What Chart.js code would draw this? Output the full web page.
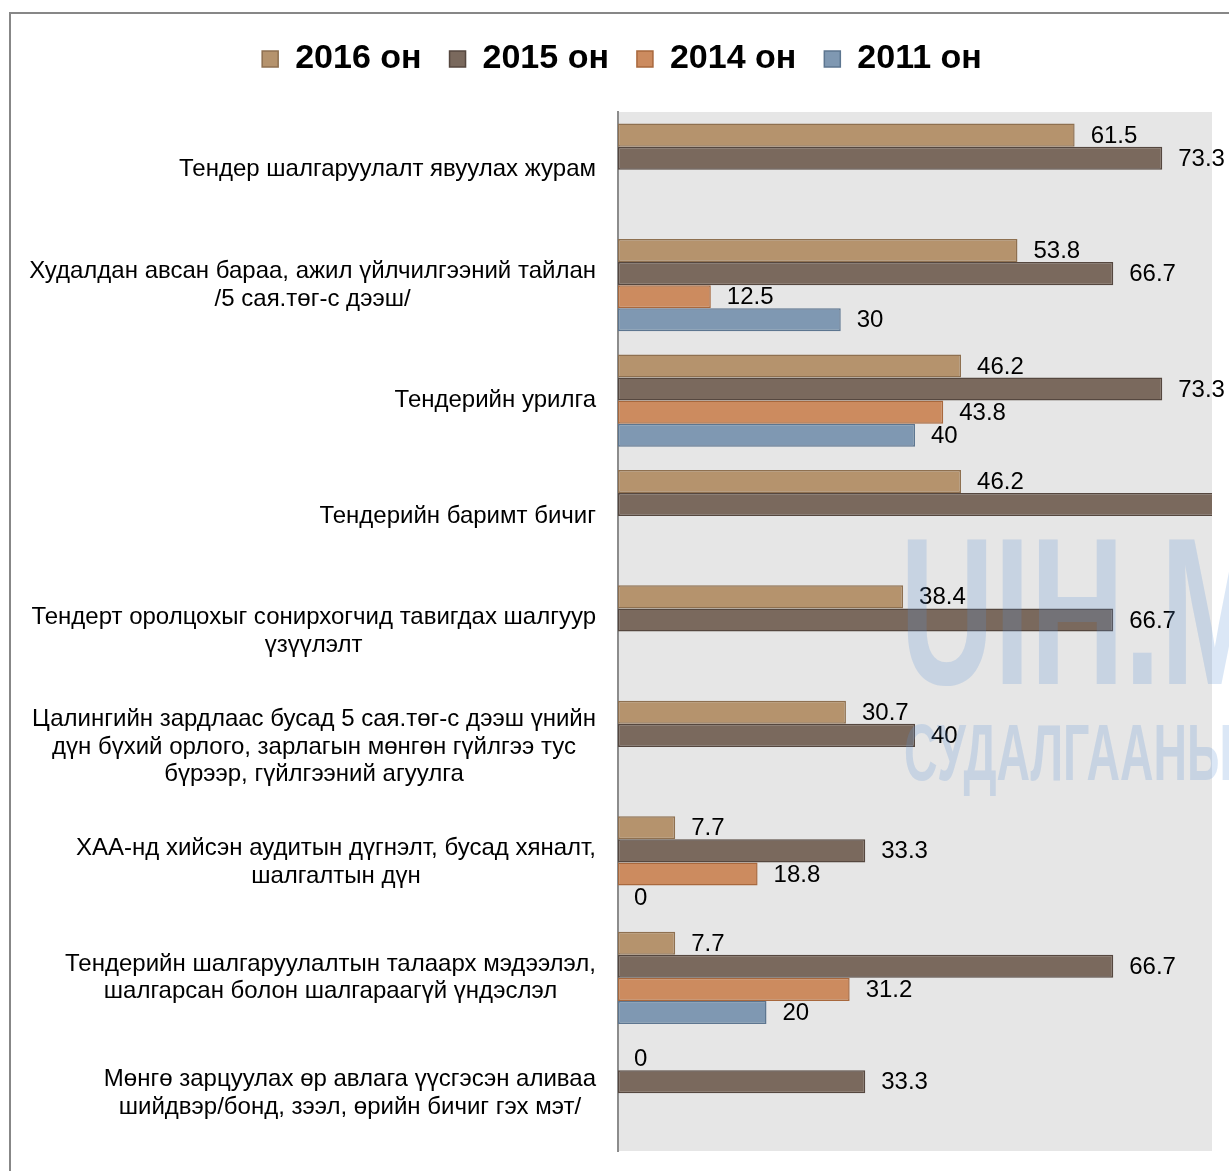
<!DOCTYPE html>
<html lang="mn">
<head>
    <meta charset="UTF-8">
    <style>
        html, body { margin: 0; padding: 0; background: #fff; }
        .wrap { position: relative; width: 1229px; height: 1171px; }
    </style>
</head>
<body>
    <div class="wrap"><canvas id="chart" width="1229" height="1171"></canvas></div>

    <script src="https://cdn.jsdelivr.net/npm/chart.js@4.4.1/dist/chart.umd.min.js"></script>
    <script>
        // ангилал (мөр бүр нэг шугам)
        const categories = [
            ['Тендер шалгаруулалт явуулах журам'],
            ['Худалдан авсан бараа, ажил үйлчилгээний тайлан', '/5 сая.төг-с дээш/'],
            ['Тендерийн урилга'],
            ['Тендерийн баримт бичиг'],
            ['Тендерт оролцохыг сонирхогчид тавигдах шалгуур', 'үзүүлэлт'],
            ['Цалингийн зардлаас бусад 5 сая.төг-с дээш үнийн', 'дүн бүхий орлого, зарлагын мөнгөн гүйлгээ тус', 'бүрээр, гүйлгээний агуулга'],
            ['ХАА-нд хийсэн аудитын дүгнэлт, бусад хяналт,', 'шалгалтын дүн'],
            ['Тендерийн шалгаруулалтын талаарх мэдээлэл,', 'шалгарсан болон шалгараагүй үндэслэл'],
            ['Мөнгө зарцуулах өр авлага үүсгэсэн аливаа', 'шийдвэр/бонд, зээл, өрийн бичиг гэх мэт/']
        ];
        const seriesNames = ['2016 он', '2015 он', '2014 он', '2011 он'];
        const v2016 = [61.5, 53.8, 46.2, 46.2, 38.4, 30.7, 7.7, 7.7, 0];
        const v2015 = [73.3, 66.7, 73.3, 86.7, 66.7, 40, 33.3, 66.7, 33.3];
        const v2014 = [null, 12.5, 43.8, null, null, null, 18.8, 31.2, null];
        const v2011 = [null, 30, 40, null, null, null, 0, 20, null];
        const xRange = [0, 80];

        const fills = ['#b5936d', '#7a695d', '#cc8b5f', '#7f98b2'];
        const borders = ['#8e7050', '#55473f', '#a8683d', '#5d7690'];

        // хүрээ, саарал дэвсгэр
        const frame = {
            id: 'frame',
            beforeDraw(chart) {
                const { ctx, chartArea: a } = chart;
                ctx.save();
                ctx.fillStyle = '#e6e6e6';
                ctx.fillRect(a.left, a.top, a.right - a.left, a.bottom - a.top);
                ctx.strokeStyle = '#878787';
                ctx.lineWidth = 2;
                ctx.strokeRect(10, 13, 1400, 1400);
                ctx.restore();
            }
        };

        // ангиллын нэрс: блок баруун тийш, мөрүүд голлуулсан
        const catLabels = {
            id: 'catLabels',
            afterDraw(chart) {
                const { ctx, scales: { y } } = chart;
                ctx.save();
                ctx.font = '24px "Liberation Sans", Arial, sans-serif';
                ctx.fillStyle = '#000';
                ctx.textAlign = 'center';
                ctx.textBaseline = 'middle';
                const lh = 27.5;
                categories.forEach((lines, i) => {
                    const cy = y.getPixelForTick(i);
                    const w = Math.max(...lines.map(l => ctx.measureText(l).width));
                    const cx = y.right - 22 - w / 2;
                    lines.forEach((l, k) => {
                        ctx.fillText(l, cx, cy + (k - (lines.length - 1) / 2) * lh);
                    });
                });
                ctx.restore();
            }
        };

        // утгын шошго
        const valueLabels = {
            id: 'valueLabels',
            afterDatasetsDraw(chart) {
                const { ctx } = chart;
                ctx.save();
                ctx.font = '24px "Liberation Sans", Arial, sans-serif';
                ctx.fillStyle = '#000';
                ctx.textAlign = 'left';
                ctx.textBaseline = 'middle';
                chart.data.datasets.forEach((ds, di) => {
                    chart.getDatasetMeta(di).data.forEach((bar, i) => {
                        const v = ds.data[i];
                        if (v === null || v > xRange[1]) return;
                        ctx.fillText(String(v), bar.x + 16, bar.y + 1);
                    });
                });
                ctx.restore();
            }
        };

        // усан тэмдэг
        const watermark = {
            id: 'watermark',
            afterDraw(chart) {
                const { ctx } = chart;
                ctx.save();
                ctx.fillStyle = 'rgba(90, 145, 215, 0.22)';
                ctx.textBaseline = 'alphabetic';
                ctx.translate(900, 684);
                ctx.scale(0.62, 1);
                ctx.font = 'bold 210px "Liberation Sans", Arial, sans-serif';
                ctx.fillText('UIH.MN', 0, 0);
                ctx.restore();
                ctx.save();
                ctx.fillStyle = 'rgba(90, 145, 215, 0.22)';
                ctx.translate(904, 758);
                ctx.scale(0.58, 1);
                ctx.font = 'bold 80px "Liberation Sans", Arial, sans-serif';
                ctx.fillText('СУДАЛГААНЫ ТӨВ', 0, 0);
                ctx.restore();
            }
        };

        // домгийн өндөр, байрлалыг тааруулах
        const legendSize = {
            id: 'legendSize',
            beforeInit(chart) {
                const lg = chart.legend;
                const fit = lg.fit;
                const draw = lg.draw;
                lg.fit = function () {
                    fit.call(this);
                    this.height = 98;
                };
                lg.draw = function () {
                    this.ctx.save();
                    this.ctx.translate(11, 0);
                    draw.call(this);
                    this.ctx.restore();
                };
            }
        };

        const ctx = document.getElementById('chart').getContext('2d');
        const chart = new Chart(ctx, {
            type: 'bar',
            data: {
                labels: categories,
                datasets: [v2016, v2015, v2014, v2011].map((d, i) => ({
                    label: seriesNames[i],
                    data: d,
                    backgroundColor: fills[i],
                    borderColor: borders[i],
                    borderWidth: 1.5,
                    borderSkipped: false,
                    categoryPercentage: 0.8,
                    barPercentage: 1
                }))
            },
            options: {
                indexAxis: 'y',
                responsive: false,
                animation: false,
                layout: { padding: { left: 10, right: 17, top: 14, bottom: 20 } },
                scales: {
                    x: {
                        display: false,
                        min: xRange[0],
                        max: xRange[1]
                    },
                    y: {
                        ticks: { display: false },
                        grid: { display: false },
                        border: { display: true, color: '#8c8c8c', width: 2 },
                        afterFit(s) { s.width = 608; }
                    }
                },
                plugins: {
                    legend: {
                        position: 'top',
                        labels: {
                            font: { family: '"Liberation Sans", Arial, sans-serif', size: 34, weight: 'bold' },
                            color: '#000',
                            boxWidth: 16,
                            boxHeight: 16,
                            padding: 28
                        }
                    },
                    tooltip: { enabled: false }
                }
            },
            plugins: [legendSize, frame, valueLabels, catLabels, watermark]
        });
    </script>
</body>
</html>
